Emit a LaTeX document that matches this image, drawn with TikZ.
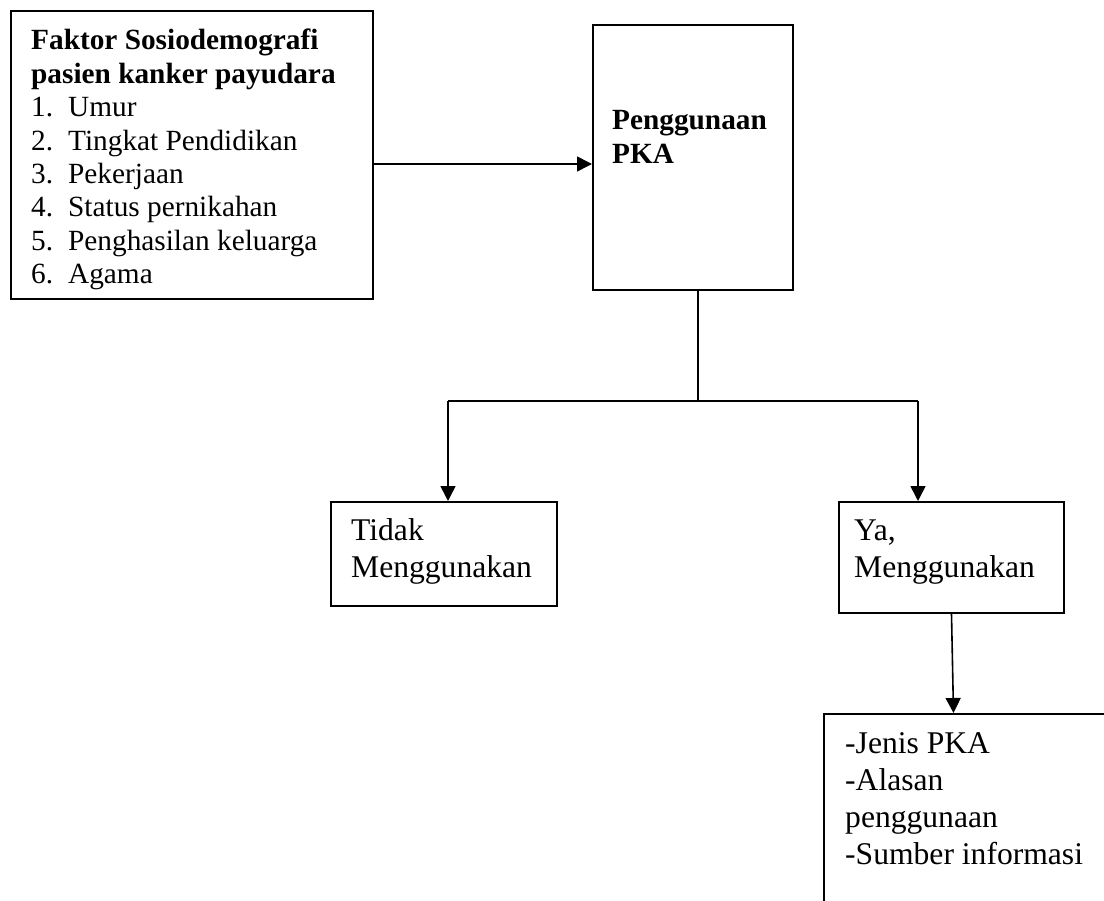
\documentclass[tikz,border=0pt]{standalone}
\usepackage{fontspec}
\setmainfont{Liberation Serif}
\usetikzlibrary{arrows.meta,calc}
\newcommand\stacklines[1]{\vtop{#1}}
\tikzset{
  boxnode/.style={draw=black, line width=2pt, rectangle, inner sep=0pt, anchor=north west},
  txtA/.style={inner sep=0pt, anchor=base west, font=\fontsize{29.3}{33.4}\selectfont},
  txtB/.style={inner sep=0pt, anchor=base west, font=\fontsize{31.6}{37.3}\selectfont},
  conn/.style={draw=black, line width=1.6pt},
  arr/.style={conn, -{Triangle[length=15pt,width=15pt]}}
}
\begin{document}
\begin{tikzpicture}[x=1pt,y=-1pt]
\useasboundingbox (0,0) rectangle (1104,901);
\clip (0,0) rectangle (1104,901);
% boxes
\node[boxnode, minimum width=362pt, minimum height=288pt] (box1) at (10,10) {};
\node[boxnode, minimum width=200pt, minimum height=265pt] (pka) at (592,24) {};
\node[boxnode, minimum width=226pt, minimum height=104pt] (tidak) at (330,501) {};
\node[boxnode, minimum width=225pt, minimum height=111pt] (ya) at (838,501) {};
\node[boxnode, minimum width=300pt, minimum height=220pt] (box3) at (823,713) {};
% texts
\node[txtA] (t1) at (31,50) {\stacklines{\hbox{\textbf{Faktor Sosiodemografi}}\hbox{\textbf{pasien kanker payudara}}
\hbox{\makebox[37pt][l]{1.}Umur}
\hbox{\makebox[37pt][l]{2.}Tingkat Pendidikan}
\hbox{\makebox[37pt][l]{3.}Pekerjaan}
\hbox{\makebox[37pt][l]{4.}Status pernikahan}
\hbox{\makebox[37pt][l]{5.}Penghasilan keluarga}
\hbox{\makebox[37pt][l]{6.}Agama}}};
\node[txtA] (t2) at (612,130) {\stacklines{\hbox{\textbf{Penggunaan}}\hbox{\textbf{PKA}}}};
\node[txtB] (t3) at (351,540) {\stacklines{\hbox{Tidak}\hbox{Menggunakan}}};
\node[txtB] (t4) at (854,540) {\stacklines{\hbox{Ya,}\hbox{Menggunakan}}};
\node[txtB] (t5) at (845,753) {\stacklines{\hbox{-Jenis PKA}\hbox{-Alasan}\hbox{penggunaan}\hbox{-Sumber informasi}}};
% connectors
\draw[arr] ([yshift=-9pt]box1.east) -- ([yshift=-9pt]box1.east -| pka.west);
\coordinate (split) at (698,401);
\coordinate (jl) at (448,401);
\coordinate (jr) at (918,401);
\draw[conn] (split |- pka.south) -- (split);
\draw[conn] (jl) -- (jr);
\draw[arr] (jl) -- (jl |- tidak.north);
\draw[arr] (jr) -- (jr |- ya.north);
\draw[arr] (ya.south) -- ([xshift=2pt]ya.south |- box3.north);
\end{tikzpicture}
\end{document}
